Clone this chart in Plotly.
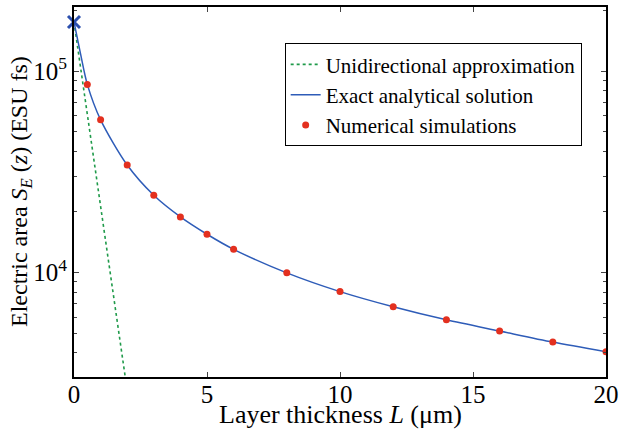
import plotly.graph_objects as go

# Layer thickness (um) and electric area (ESU fs)
L_sim = [0.5, 1, 2, 3, 4, 5, 6, 8, 10, 12, 14, 16, 18, 20]
S_sim = [85900, 57300, 34200, 24200, 18900, 15500, 13050, 9970, 8050, 6770, 5830, 5130, 4520, 4050]

L_exact = [0, 0.25, 0.5, 1, 2, 3, 4, 5, 6, 8, 10, 12, 14, 16, 18, 20]
S_exact = [175200, 121000, 85900, 57300, 34200, 24200, 18900, 15500, 13050, 9970, 8050, 6770, 5830, 5130, 4520, 4050]

L_uni = [0, 2]
S_uni = [175200, 2600]

L_start = [0]
S_start = [175200]

FONT = "Liberation Serif, Times New Roman, Times, serif"
BLUE = "#2e5cb8"
RED = "#e3301f"
GREEN = "#1f9a4a"

fig = go.Figure()
fig.add_trace(go.Scatter(x=L_uni, y=S_uni, mode="lines", name="Unidirectional approximation",
                         line=dict(color=GREEN, width=1.6, dash="dot")))
fig.add_trace(go.Scatter(x=L_exact, y=S_exact, mode="lines", name="Exact analytical solution",
                         line=dict(color=BLUE, width=1.5, shape="spline", smoothing=0.8)))
fig.add_trace(go.Scatter(x=L_sim, y=S_sim, mode="markers", name="Numerical simulations",
                         marker=dict(color=RED, size=7)))
fig.add_trace(go.Scatter(x=L_start, y=S_start, mode="markers", showlegend=False, cliponaxis=False,
                         marker=dict(symbol="x-thin", size=12, line=dict(color="#2b4fae", width=3))))

minor_vals = [m * 10 ** e for e in (3, 4, 5) for m in range(2, 10)]

fig.update_layout(
    width=624, height=445,
    margin=dict(l=74, r=15, t=5, b=68),
    paper_bgcolor="white", plot_bgcolor="white",
    font=dict(family=FONT, size=25, color="black"),
    showlegend=True,
    legend=dict(x=0.396, y=0.763, xanchor="left", yanchor="middle",
                bordercolor="black", borderwidth=1, bgcolor="white",
                font=dict(family=FONT, size=21), tracegroupgap=0, itemwidth=30),
    xaxis=dict(range=[0, 20], tickvals=[0, 5, 10, 15, 20], ticks="inside", ticklen=5, tickwidth=1,
               showline=True, linewidth=2, linecolor="black", mirror="ticks", showgrid=False, zeroline=False,
               tickfont=dict(family=FONT, size=25), ticklabelstandoff=-6),
    yaxis=dict(type="log", range=[3.482, 5.318], tickvals=[1e4, 1e5],
               ticktext=["10<sup>4</sup>", "10<sup>5</sup>"], ticks="inside", ticklen=5, tickwidth=1,
               minor=dict(tickvals=minor_vals, ticks="inside", ticklen=3, tickwidth=1, showgrid=False),
               showline=True, linewidth=2, linecolor="black", mirror="ticks", showgrid=False, zeroline=False,
               tickfont=dict(family=FONT, size=25)),
    annotations=[
        dict(text="Layer thickness <i>L</i> (μm)", xref="paper", yref="paper", x=0.5, y=0,
             yshift=-37, xanchor="center", yanchor="middle", showarrow=False,
             font=dict(family=FONT, size=26)),
        dict(text="Electric area <i>S<sub>E</sub></i> (<i>z</i>) (ESU fs)", xref="paper", yref="paper",
             x=0, xshift=-53, y=0.5, xanchor="center", yanchor="middle", textangle=-90, showarrow=False,
             font=dict(family=FONT, size=24)),
    ],
)

fig.write_html("out.html", config={"displayModeBar": False},
               post_script="document.body.style.margin='0';")
